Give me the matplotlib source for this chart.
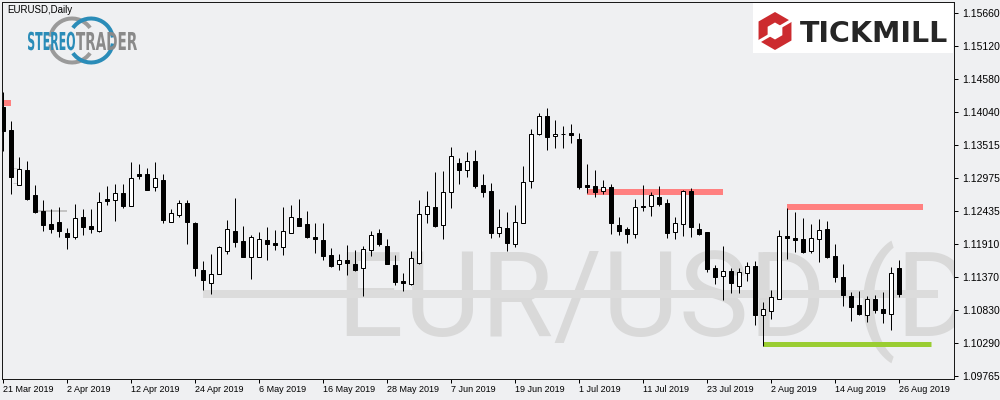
import numpy as np
import matplotlib
matplotlib.use("Agg")
import matplotlib.pyplot as plt
from matplotlib.patches import Rectangle, RegularPolygon, Arc, PathPatch
from matplotlib.textpath import TextPath
from matplotlib.font_manager import FontProperties
from matplotlib.transforms import Affine2D

# ---------------- data (EURUSD daily, 21 Mar 2019 - 26 Aug 2019) ----------------
opens = [1.14129, 1.13755, 1.12861, 1.13105, 1.12699, 1.12439, 1.12228, 1.12260, 1.12081, 1.12016,
         1.12341, 1.12195, 1.12114, 1.12634, 1.12618, 1.12731, 1.12520, 1.13040, 1.13040, 1.12829,
         1.12943, 1.12260, 1.12374, 1.12569, 1.12244, 1.11480, 1.11269, 1.11415, 1.11789, 1.12114,
         1.11951, 1.11691, 1.11691, 1.11968, 1.11919, 1.11854, 1.12081, 1.12325, 1.12228, 1.12016,
         1.11968, 1.11724, 1.11578, 1.11643, 1.11578, 1.11513, 1.11805, 1.12081, 1.11870, 1.11561,
         1.11301, 1.11253, 1.11594, 1.12390, 1.12504, 1.12211, 1.12748, 1.13219, 1.13105, 1.13251,
         1.12861, 1.12764, 1.12081, 1.12163, 1.11903, 1.12244, 1.12926, 1.13690, 1.13983, 1.13658,
         1.13690, 1.13706, 1.13609, 1.12861, 1.12845, 1.12764, 1.12829, 1.12211, 1.12146, 1.12065,
         1.12520, 1.12520, 1.12666, 1.12569, 1.12098, 1.12228, 1.12764, 1.12146, 1.12098, 1.11513,
         1.11383, 1.11464, 1.11220, 1.11431, 1.11545, 1.10749, 1.10814, 1.11009, 1.12033, 1.12000,
         1.11984, 1.11789, 1.11984, 1.12146, 1.11708, 1.11366, 1.11058, 1.10911, 1.10749, 1.11009,
         1.10846, 1.10765, 1.11513]
highs = [1.14373, 1.13901, 1.13316, 1.13251, 1.12861, 1.12618, 1.12471, 1.12504, 1.12163, 1.12553,
         1.12471, 1.12471, 1.12748, 1.12845, 1.12878, 1.12878, 1.13235, 1.13203, 1.13138, 1.13235,
         1.13040, 1.12471, 1.12618, 1.12618, 1.12260, 1.11626, 1.11740, 1.11870, 1.12293, 1.12650,
         1.12195, 1.12049, 1.12098, 1.12179, 1.12130, 1.12504, 1.12536, 1.12634, 1.12439, 1.12244,
         1.12244, 1.11838, 1.11740, 1.11886, 1.11805, 1.11870, 1.12114, 1.12146, 1.11984, 1.11724,
         1.11431, 1.11789, 1.12618, 1.12764, 1.13073, 1.13089, 1.13479, 1.13300, 1.13398, 1.13430,
         1.13040, 1.12894, 1.12471, 1.12423, 1.12536, 1.13170, 1.13771, 1.14031, 1.14113, 1.13918,
         1.13820, 1.13853, 1.13706, 1.13203, 1.13105, 1.12943, 1.12878, 1.12341, 1.12179, 1.12634,
         1.12861, 1.12748, 1.12845, 1.12634, 1.12341, 1.12780, 1.12813, 1.12244, 1.12098, 1.11561,
         1.11870, 1.11513, 1.11513, 1.11610, 1.11626, 1.10960, 1.11155, 1.12130, 1.12488, 1.12423,
         1.12325, 1.12228, 1.12309, 1.12276, 1.11903, 1.11578, 1.11123, 1.11139, 1.11058, 1.11074,
         1.11123, 1.11529, 1.11643]
lows = [1.13414, 1.12715, 1.12861, 1.12618, 1.12406, 1.12114, 1.12081, 1.12016, 1.11821, 1.11984,
        1.12049, 1.12081, 1.12098, 1.12536, 1.12276, 1.12488, 1.12520, 1.12959, 1.12780, 1.12764,
        1.12244, 1.12260, 1.12341, 1.11903, 1.11383, 1.11155, 1.11090, 1.11415, 1.11740, 1.11854,
        1.11691, 1.11334, 1.11691, 1.11643, 1.11805, 1.11724, 1.12081, 1.12195, 1.12000, 1.11756,
        1.11643, 1.11529, 1.11480, 1.11399, 1.11464, 1.11058, 1.11708, 1.11870, 1.11578, 1.11236,
        1.11139, 1.11236, 1.11578, 1.12244, 1.12179, 1.11984, 1.12488, 1.12878, 1.12991, 1.12813,
        1.12666, 1.12000, 1.12016, 1.11789, 1.11854, 1.12244, 1.12813, 1.13674, 1.13430, 1.13463,
        1.13463, 1.13544, 1.12796, 1.12731, 1.12666, 1.12715, 1.12065, 1.12049, 1.11919, 1.12000,
        1.12439, 1.12358, 1.12520, 1.12000, 1.11984, 1.12033, 1.12016, 1.12049, 1.11448, 1.11253,
        1.10993, 1.11106, 1.11106, 1.11301, 1.10586, 1.10245, 1.10684, 1.11009, 1.11659, 1.11773,
        1.11756, 1.11756, 1.11610, 1.11675, 1.11285, 1.10895, 1.10651, 1.10749, 1.10635, 1.10781,
        1.10619, 1.10505, 1.11041]
closes = [1.13739, 1.12991, 1.13121, 1.12634, 1.12423, 1.12211, 1.12146, 1.12114, 1.12016, 1.12325,
          1.12179, 1.12146, 1.12585, 1.12601, 1.12731, 1.12520, 1.12975, 1.13008, 1.12780, 1.12975,
          1.12293, 1.12406, 1.12569, 1.12260, 1.11513, 1.11318, 1.11415, 1.11854, 1.12146, 1.11935,
          1.11691, 1.12016, 1.11984, 1.11903, 1.11886, 1.12114, 1.12341, 1.12195, 1.12016, 1.11984,
          1.11708, 1.11545, 1.11643, 1.11594, 1.11480, 1.11821, 1.12049, 1.11903, 1.11578, 1.11285,
          1.11269, 1.11675, 1.12390, 1.12520, 1.12195, 1.12748, 1.13333, 1.13105, 1.13251, 1.12845,
          1.12748, 1.12081, 1.12179, 1.11919, 1.12260, 1.12910, 1.13690, 1.13983, 1.13641, 1.13690,
          1.13690, 1.13674, 1.12829, 1.12829, 1.12748, 1.12829, 1.12244, 1.12114, 1.12065, 1.12504,
          1.12504, 1.12699, 1.12553, 1.12081, 1.12244, 1.12764, 1.12179, 1.12065, 1.11496, 1.11366,
          1.11464, 1.11269, 1.11448, 1.11545, 1.10749, 1.10846, 1.11041, 1.12033, 1.12000, 1.11968,
          1.11773, 1.12000, 1.12130, 1.11691, 1.11366, 1.11074, 1.10879, 1.10765, 1.11009, 1.10830,
          1.10781, 1.11431, 1.11090]

date_labels = ["21 Mar 2019", "2 Apr 2019", "12 Apr 2019", "24 Apr 2019", "6 May 2019",
               "16 May 2019", "28 May 2019", "7 Jun 2019", "19 Jun 2019", "1 Jul 2019",
               "11 Jul 2019", "23 Jul 2019", "2 Aug 2019", "14 Aug 2019", "26 Aug 2019"]
label_every = 8  # one date label every 8 bars

price_ticks = [1.15660, 1.15120, 1.14580, 1.14040, 1.13515, 1.12975,
               1.12435, 1.11910, 1.11370, 1.10830, 1.10290, 1.09765]

# horizontal levels: price, first bar, last bar
level_prices = [1.14194, 1.12748, 1.12509, 1.10274, 1.11098, 1.12444, 1.13133, 1.12889]
level_start = [-2.0, 73.0, 98.0, 95.0, 25.0, 4.4, 1.25, 1.25]
level_end = [1.0, 90.0, 115.0, 116.0, 116.9, 8.0, 2.0, 2.0]

symbol_title = "EURUSD,Daily"
watermark = "EUR/USD (D"

# ---------------- styling ----------------
PX = 0.72  # points per pixel at 100 dpi
BG = "#eff0f2"
level_colors = ["#ff8080", "#ff8080", "#ff8080", "#9acd32", "#dcdcdc", "#c4c4c4", "#cccccc", "#cccccc"]
level_px = [6, 6, 6, 5, 8, 2, 1, 1]

fig = plt.figure(figsize=(10, 4), dpi=100, facecolor=BG)
ax = fig.add_axes([2 / 1000, 1 - 379 / 400, 952 / 1000, 377 / 400], facecolor=BG)
ax.set_xlim(-0.125, 118.875)
ax.set_ylim(1.09709, 1.15835)

o = np.array(opens); h = np.array(highs); l = np.array(lows); c = np.array(closes)
x = np.arange(len(o))
up = c >= o

# watermark
ax.text(41.7, 1.10408, watermark, fontsize=85, family=["Roboto", "DejaVu Sans"],
        color="#d9d9d9", ha="left", va="baseline", zorder=0.5, clip_on=True)

# levels
for p, s, e, col, w in zip(level_prices, level_start, level_end, level_colors, level_px):
    ax.hlines(p, s, e, colors=col, linewidth=w * PX, zorder=1, capstyle="butt")

# candles
ax.vlines(x, l, h, color="black", linewidth=1 * PX, zorder=2)
ax.bar(x, np.abs(c - o), bottom=np.minimum(o, c), width=0.5,
       color=np.where(up, "white", "black"), edgecolor="black", linewidth=1 * PX, zorder=3)

# axes styling
for sp in ax.spines.values():
    sp.set_color("#1a1a1a")
    sp.set_linewidth(1 * PX)

ax.yaxis.tick_right()
ax.set_yticks(price_ticks)
ax.set_yticklabels([f"{v:.5f}" for v in price_ticks], family=["Liberation Sans", "DejaVu Sans"])
ax.tick_params(axis="y", direction="out", length=3, width=PX, pad=3, labelsize=7.5, colors="black")

ax.set_xticks(np.arange(len(date_labels)) * label_every)
ax.set_xticklabels(date_labels, family=["Liberation Sans", "DejaVu Sans"], ha="left")
ax.tick_params(axis="x", direction="out", length=3, width=PX, pad=1.5, labelsize=6.5, colors="black")

# ---------------- overlay (title and logos) in pixel coordinates ----------------
ov = fig.add_axes([0, 0, 1, 1], zorder=10)
ov.set_xlim(0, 1000)
ov.set_ylim(400, 0)
ov.axis("off")
ov.patch.set_alpha(0)

ov.text(7, 10, symbol_title, fontsize=7, family=["Liberation Sans", "DejaVu Sans"],
        ha="left", va="center", color="black")

# StereoTrader logo
grey_ring = "#9a9a9a"
blue = "#2a8cb8"
ov.add_patch(Arc((72, 40.5), 44, 44, theta1=190, theta2=325, color=grey_ring, lw=4 * PX))
ov.add_patch(Arc((72, 40.5), 44, 44, theta1=35, theta2=170, color=grey_ring, lw=4 * PX))
ov.add_patch(Arc((91, 40.5), 44, 44, theta1=215, theta2=352, color=blue, lw=4 * PX))
ov.add_patch(Arc((91, 40.5), 44, 44, theta1=8, theta2=145, color=blue, lw=4 * PX))

fp = FontProperties(family="DejaVu Sans", weight="bold")
tp1 = TextPath((0, 0), "STEREO", size=1, prop=fp)
tp2 = TextPath((0, 0), "TRADER", size=1, prop=fp)
e1 = tp1.get_extents(); e2 = tp2.get_extents()
sy = 18 / 0.729
sx1 = 47 / e1.width
sx2 = 61 / e2.width
t1 = Affine2D().translate(-e1.x0, 0).scale(sx1, -sy).translate(28, 50) + ov.transData
t2 = Affine2D().translate(-e2.x0, 0).scale(sx2, -sy).translate(76, 50) + ov.transData
ov.add_patch(PathPatch(tp1, transform=t1, facecolor=blue, edgecolor="none", zorder=3))
ov.add_patch(PathPatch(tp2, transform=t2, facecolor="#8a8a8a", edgecolor="none", zorder=3))

# Tickmill logo
ov.add_patch(Rectangle((753, 3), 200, 50, facecolor="white", edgecolor="none", zorder=2))
ov.add_patch(RegularPolygon((775, 31), numVertices=6, radius=19, orientation=0,
                            facecolor="#cc2b2f", edgecolor="none", zorder=3))
ov.add_patch(RegularPolygon((775, 31), numVertices=6, radius=8.5, orientation=0,
                            facecolor="white", edgecolor="none", zorder=4))
ov.plot([780, 792], [27, 20], color="white", lw=3 * PX, zorder=4, solid_capstyle="butt")
ov.plot([758, 770], [42, 35], color="white", lw=3 * PX, zorder=4, solid_capstyle="butt")
ov.text(800, 42, "TICKMILL", fontsize=20.5, fontweight="bold", family="DejaVu Sans",
        color="#262626", ha="left", va="baseline", zorder=5)

fig.savefig("out.png", dpi=100, facecolor=BG)
